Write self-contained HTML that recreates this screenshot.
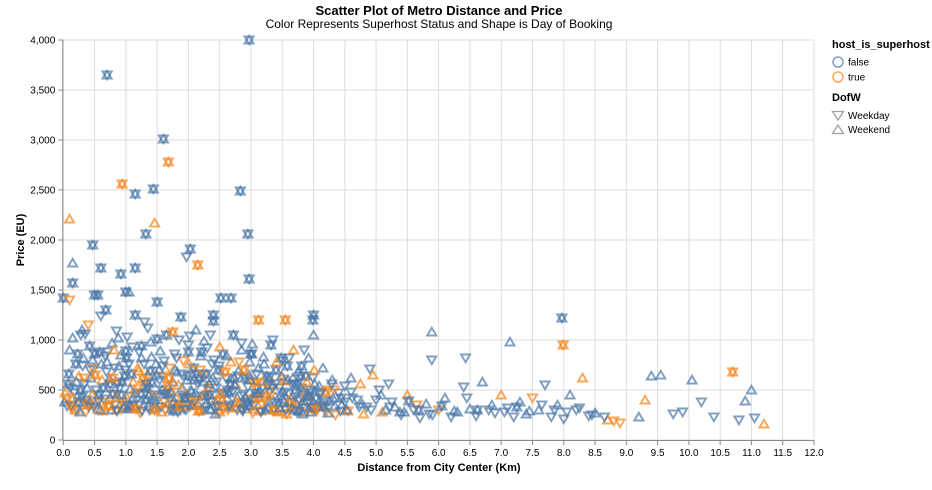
<!DOCTYPE html>
<html><head><meta charset="utf-8"><style>
body{margin:0;background:#fff;}
svg{display:block;font-family:"Liberation Sans",Arial,sans-serif;}
</style></head><body>
<svg id="chart" width="932" height="490" viewBox="0 0 932 490" xmlns="http://www.w3.org/2000/svg">
<text x="439" y="15" text-anchor="middle" font-size="13" font-weight="bold" fill="#000">Scatter Plot of Metro Distance and Price</text>
<text x="439" y="28" text-anchor="middle" font-size="12" fill="#000">Color Represents Superhost Status and Shape is Day of Booking</text>
<g id="grid"></g>
<g id="axes"></g>
<g id="marks"></g>
<text x="439" y="471" text-anchor="middle" font-size="11" font-weight="bold">Distance from City Center (Km)</text>
<text transform="translate(24,240) rotate(-90)" text-anchor="middle" font-size="11" font-weight="bold">Price (EU)</text>
<g>
<text x="832" y="48" font-size="11" font-weight="bold">host_is_superhost</text>
<circle cx="838" cy="62" r="5" fill="none" stroke="#4c78a8" stroke-width="1.5" opacity="0.7"/>
<text x="848" y="65.5" font-size="10">false</text>
<circle cx="838" cy="77" r="5" fill="none" stroke="#f58518" stroke-width="1.5" opacity="0.7"/>
<text x="848" y="80.5" font-size="10">true</text>
<text x="832" y="101" font-size="11" font-weight="bold">DofW</text>
<path d="M832.5,111.5 L843.5,111.5 L838,120 Z" fill="none" stroke="#888" stroke-width="1.3" opacity="0.8"/>
<text x="848" y="119" font-size="10">Weekday</text>
<path d="M832.5,133.5 L843.5,133.5 L838,125 Z" fill="none" stroke="#888" stroke-width="1.3" opacity="0.8"/>
<text x="848" y="133" font-size="10">Weekend</text>
</g>
</svg>
<script>
const xTicks=[0,0.5,1,1.5,2,2.5,3,3.5,4,4.5,5,5.5,6,6.5,7,7.5,8,8.5,9,9.5,10,10.5,11,11.5,12];
const yTicks=[0,500,1000,1500,2000,2500,3000,3500,4000];
const yTickLabels=["0","500","1,000","1,500","2,000","2,500","3,000","3,500","4,000"];
const distance=[
0.02,0.05,0.08,0.1,0.12,0.15,0.18,0.2,
0.22,0.25,0.28,0.3,0.32,0.35,0.38,0.4,
0.42,0.45,0.48,0.5,0.52,0.55,0.58,0.6,
0.62,0.65,0.68,0.7,0.72,0.75,0.78,0.8,
0.82,0.85,0.88,0.9,0.92,0.95,0.98,1.0,
1.02,1.05,1.08,1.1,1.12,1.15,1.18,1.2,
1.22,1.25,1.28,1.3,1.32,1.35,1.38,1.4,
1.42,1.45,1.48,1.5,1.52,1.55,1.58,1.6,
1.62,1.65,1.68,1.7,1.72,1.75,1.78,1.8,
1.82,1.85,1.88,1.9,1.92,1.95,1.98,2.0,
2.02,2.05,2.08,2.1,2.12,2.15,2.18,2.2,
2.22,2.25,2.28,2.3,2.32,2.35,2.38,2.4,
2.42,2.45,2.48,2.5,2.52,2.55,2.58,2.6,
2.62,2.65,2.68,2.7,2.72,2.75,2.78,2.8,
2.82,2.85,2.88,2.9,2.92,2.95,2.98,3.0,
3.02,3.05,3.08,3.1,3.12,3.15,3.18,3.2,
3.22,3.25,3.28,3.3,3.32,3.35,3.38,3.4,
3.42,3.45,3.48,3.5,3.52,3.55,3.58,3.6,
3.62,3.65,3.68,3.7,3.72,3.75,3.78,3.8,
3.82,3.85,3.88,3.9,3.92,3.95,3.98,4.0,
4.02,4.05,4.1,4.15,4.2,4.25,4.3,4.35,
4.4,4.45,4.5,4.55,4.6,4.7,4.8,4.9,
0.03,0.13,0.27,0.36,0.44,0.57,0.66,0.77,
0.87,0.97,1.07,1.17,1.27,1.37,1.47,1.57,
1.67,1.77,1.87,1.97,2.07,2.17,2.27,2.37,
2.47,2.57,2.67,2.77,2.87,2.97,3.07,3.17,
3.27,3.37,3.47,3.57,3.67,3.77,3.87,3.97,
0.09,0.31,0.53,0.71,0.93,1.13,1.33,1.53,
1.73,1.93,2.13,2.33,2.53,2.73,2.93,3.13,
3.33,3.53,3.73,3.93,4.13,4.33,4.53,4.73,
0.19,0.41,0.63,0.83,1.03,1.23,1.43,1.63,
1.83,2.03,2.23,2.43,2.63,2.83,3.03,3.23,
3.43,3.63,3.83,4.03,4.23,4.43,0.5,1.0,
1.5,2.0,2.5,3.0,3.5,1.25,1.75,2.25,
5.0,5.1,5.2,5.3,5.4,5.5,5.6,5.7,
5.8,5.9,6.0,6.1,6.2,6.3,6.4,6.5,
6.6,6.7,6.8,6.9,7.0,7.1,7.2,7.3,
7.4,7.5,7.6,7.7,7.8,7.9,8.0,8.1,
8.2,8.3,8.4,8.5,8.7,8.8,8.9,9.2,
9.3,9.4,9.55,9.75,9.9,10.05,10.2,10.4,
10.7,10.8,10.9,11.0,11.05,11.2,4.6,4.75,
4.85,4.95,5.05,5.15,5.25,5.45,5.65,5.85,
2.97,0.70,1.60,1.68,0.94,1.15,1.44,2.83,
1.32,1.46,2.95,0.10,2.03,0.47,1.97,2.15,
0.15,0.60,1.15,0.15,0.92,2.97,0.00,0.10,
2.68,2.52,3.12,3.99,7.97,7.99,7.14,5.89,
5.89,6.43,3.55,4.0,1.05,0.55,0.3,2.4,
0.06,0.16,0.24,0.34,0.46,0.56,0.64,0.74,
0.84,0.94,1.04,1.14,1.24,1.34,1.44,1.54,
1.64,1.74,1.84,1.94,2.04,2.14,2.24,2.34,
2.44,2.54,2.64,2.74,2.84,2.94,3.04,3.14,
3.24,3.34,3.44,3.54,3.64,3.74,3.84,3.94,
4.04,4.14,4.24,4.34,4.44,0.11,0.21,0.33,
0.43,0.51,0.61,0.69,0.79,0.89,0.99,1.09,
1.19,1.29,1.39,1.49,1.59,1.69,1.79,1.89,
1.99,2.09,2.19,2.29,2.39,2.49,2.59,2.69,
2.79,2.89,2.99,3.09,3.19,3.29,3.39,3.49,
3.59,3.69,3.79,3.89,3.99,4.09,4.19,4.29,
0.14,0.26,0.39,0.49,0.59,0.73,0.86,0.96,
1.06,1.16,1.26,1.36,1.46,1.56,1.66,1.76,
1.86,1.96,2.06,2.16,2.26,2.36,2.46,2.56,
2.66,2.76,2.86,2.96,3.06,3.16,3.26,3.36,
3.46,3.56,3.66,3.76,3.86,3.96,4.06,4.16,
0.23,0.47,0.67,0.81,1.01,1.21,1.41,1.61,
1.81,2.01,2.21,2.41,2.61,2.81,3.01,3.21,
3.41,3.61,3.81,4.01,0.37,0.79,1.11,1.31,
1.51,1.71,1.91,2.11,2.31,2.51,2.71,2.91,
3.11,3.31,3.51,3.71,3.91,4.11,4.31,4.5,
4.62,4.78,4.92,5.08,5.22,5.38,5.52,5.68,
6.05,6.25,6.45,6.62,6.85,7.05,7.25,7.45,
7.65,7.85,8.05,8.25,8.45,8.65,1.02,2.02,
0.35,0.85,1.35,1.85,2.35,2.85,3.35,3.85];
const price=[
380,420,560,900,330,1020,470,760,
300,640,1050,430,820,370,520,1150,
940,360,710,1450,500,310,880,1240,
600,410,1300,780,330,560,970,450,
720,300,1020,520,850,380,640,1480,
420,760,330,930,580,1250,470,690,
350,820,540,1180,400,660,300,980,
570,430,760,1380,330,890,500,640,
380,1050,460,720,310,580,860,420,
680,350,1230,520,790,410,600,950,
330,480,720,380,1100,560,290,840,
440,650,360,920,520,310,760,1190,
390,580,700,280,470,860,340,620,
500,330,780,420,1050,560,300,690,
370,900,460,620,310,530,780,410,
960,350,580,440,720,290,520,830,
400,640,320,480,950,560,370,700,
290,520,820,410,610,330,740,460,
380,560,900,300,470,680,350,520,
420,280,640,360,820,500,310,1050,
560,330,450,720,280,390,600,250,
470,350,540,290,620,400,260,710,
470,350,500,280,620,450,380,300,
560,340,510,400,620,450,360,280,
540,390,300,460,360,620,470,380,
300,450,560,380,290,650,470,360,
540,300,430,260,620,400,470,330,
660,740,380,880,450,330,560,700,
490,310,660,560,410,620,360,420,
390,590,280,440,360,500,300,330,
300,330,290,350,310,270,320,300,
280,340,300,260,300,320,270,300,
280,320,260,300,270,290,860,890,
1010,880,930,860,790,940,1080,990,
400,280,560,330,250,450,300,220,
360,250,300,420,230,280,530,310,
240,580,300,270,450,320,230,380,
260,420,300,550,230,350,210,450,
300,620,240,270,200,190,170,230,
400,640,650,260,280,600,380,230,
680,200,390,500,220,160,480,560,
330,650,500,300,380,280,350,260,
4000,3650,3010,2780,2560,2460,2510,2490,
2060,2170,2060,2210,1910,1950,1830,1750,
1770,1720,1720,1570,1660,1610,1420,1400,
1420,1420,1200,1200,1220,950,980,1080,
800,820,1200,1250,1480,1450,1100,1250,
340,420,380,560,450,390,520,610,
430,580,350,500,450,520,410,600,
460,360,550,420,500,390,580,450,
520,400,470,550,440,380,560,500,
450,520,370,480,420,560,390,470,
420,380,500,340,420,520,580,620,
700,650,760,680,620,740,700,660,
720,760,690,650,740,620,700,660,
640,600,700,660,620,740,680,610,
640,700,600,660,580,620,560,640,
600,560,640,580,620,540,480,560,
310,280,350,330,300,340,290,320,
350,310,290,340,300,330,360,290,
330,300,350,290,330,300,340,310,
350,320,300,340,310,280,330,300,
320,300,350,290,320,280,300,330,
860,800,840,900,820,880,830,790,
820,760,880,800,840,780,860,760,
780,820,740,700,400,460,420,470,
450,480,430,470,420,460,490,430,
470,440,480,430,450,470,420,380,
420,360,300,450,330,280,390,300,
340,290,420,300,350,280,330,290,
350,300,280,320,250,230,1030,1040,
1060,1090,1120,1000,1050,970,1000,900];
const superhost=[
0,1,0,0,1,0,0,0, 0,1,0,0,0,1,0,1, 0,0,1,0,0,1,0,0, 1,0,0,0,1,0,0,1,
0,1,0,0,0,1,0,0, 1,0,0,0,1,0,0,1, 0,0,1,0,0,1,0,0, 0,1,0,0,1,0,0,1,
1,0,0,1,0,0,0,1, 0,1,0,0,1,0,0,0, 1,0,0,1,0,0,1,0, 0,1,0,0,1,0,0,0,
1,0,0,1,0,0,1,0, 0,0,1,0,0,1,0,0, 1,0,0,0,1,0,0,1, 0,0,1,0,0,1,0,0,
1,0,0,0,0,1,0,0, 1,0,0,0,1,0,0,0, 0,0,1,0,0,0,1,0, 0,1,0,0,0,0,1,0,
0,1,0,0,1,0,0,1, 0,0,0,1,0,0,1,0, 1,0,0,1,0,0,1,0, 0,1,0,0,1,0,0,1,
1,0,0,1,0,0,1,0, 1,0,0,1,0,0,0,1, 0,1,0,1,0,0,1,0, 0,0,1,0,0,1,0,0,
1,0,0,0,1,0,0,1, 0,1,0,0,0,1,0,0, 1,0,1,0,0,1,0,1, 0,1,0,0,1,0,1,0,
1,0,0,1,0,0,0,0, 0,0,1,0,0,0,1,0, 0,1,0,0,0,1,0,0, 0,0,1,0,0,0,0,0,
0,0,0,0,1,0,0,0, 0,1,0,0,0,0,0,0, 0,1,0,0,1,1,1,0, 1,0,0,0,0,0,0,0,
1,0,0,0,0,1,0,1, 0,1,0,0,0,0,1,0, 0,0,0,1,1,0,0,0, 0,1,0,1,0,0,0,1,
0,0,0,0,0,0,0,1, 0,0,1,0,0,1,0,0, 0,0,1,0,0,0,0,0,
0,1,0,0,1,0,0,0, 1,0,0,1,0,0,0,0, 0,0,1,0,0,1,0,0, 0,1,0,0,0,0,1,0,
1,0,0,0,1,0,0,0, 0,0,1,0,0,0,0,1, 0,1,0,0,1,0,0,0, 1,0,0,0,0,1,0,0,
0,0,1,0,0,0,1,0, 0,1,0,0,1,0,0,0, 0,0,0,1,0,0,1,0, 1,0,1,0,0,1,0,0,
0,1,0,0,1,0,1,0, 1,0,0,1,0,0,0,1, 0,1,0,0,1,0,0,1, 0,0,1,0,0,0,1,0,
0,0,0,1,0,0,0,0, 0,1,0,0,0,1,0,0, 1,0,0,1,0,0,0,0, 0,0,0,0,0,1,0,0,
0,1,0,0,0,0,0,0, 0,0,0,0,0,0,0,0];
// 0 = Weekday, 1 = Weekend, 2 = both days booked
const dofw=[
1,0,2,1,0,1,0,2, 0,1,0,2,1,0,1,0, 2,1,0,2,0,1,2,0, 1,0,2,1,0,2,1,0,
0,2,1,0,1,0,2,2, 1,0,2,0,1,2,0,1, 0,1,2,0,2,1,0,1, 2,0,1,2,0,1,2,0,
0,2,1,0,2,1,0,1, 1,0,2,1,0,2,1,0, 0,1,2,0,1,0,2,1, 2,0,1,0,2,1,0,2,
1,0,2,1,0,2,1,0, 0,2,1,0,2,1,0,1, 2,1,0,2,1,0,1,2, 1,0,2,0,1,2,0,1,
0,2,1,0,2,1,0,2, 1,0,2,1,0,1,2,0, 2,0,1,2,0,1,0,2, 0,1,2,0,1,0,2,1,
1,2,0,1,0,2,1,0, 0,1,0,2,1,0,1,0, 1,0,2,0,1,2,0,1, 0,2,1,0,2,1,0,1,
2,1,0,1,0,2,1,0, 1,0,2,1,0,1,2,0, 0,1,0,2,1,0,1,2, 2,0,1,0,2,1,0,1,
1,0,2,1,0,1,0,2, 0,1,0,2,1,0,1,0, 1,0,1,0,1,0,1,0, 0,1,0,1,0,1,0,1,
1,0,1,0,1,0,2,2, 2,2,1,2,0,2,2,1, 0,1,0,1,0,1,0,0, 1,0,0,1,0,1,0,1,
0,1,0,0,1,0,0,1, 1,0,1,0,0,1,0,1, 0,1,0,1,1,0,0,1, 1,1,1,0,0,1,0,0,
2,0,1,1,0,1,0,1, 0,1,0,1,0,1,0,0, 2,2,2,2,2,2,2,2, 2,1,2,1,2,2,0,2,
1,2,2,2,2,2,2,0, 2,2,2,2,2,2,1,1, 0,0,2,2,1,2,1,2,
0,1,2,0,1,0,2,1, 1,2,0,1,0,2,1,0, 2,0,1,2,1,0,1,2, 0,1,2,1,0,2,0,1,
1,0,2,0,1,2,1,0, 2,1,0,1,2,0,1,0, 0,2,1,0,2,1,0,2, 1,0,2,1,0,2,1,0,
2,1,0,2,1,0,2,1, 0,2,1,0,1,2,0,1, 1,0,2,1,0,1,2,0, 0,1,2,0,1,2,0,1,
1,2,0,1,2,0,1,2, 2,0,1,2,0,1,2,0, 0,1,0,2,1,0,1,2, 1,0,1,2,0,1,0,2,
2,1,0,1,2,0,1,0, 0,1,2,0,1,0,2,1, 1,0,2,1,0,2,1,0, 0,1,0,1,0,1,0,1,
1,0,1,0,1,0,1,0, 0,1,0,1,0,1,2,2, 2,1,0,2,1,0,2,1];

const X0=63.3,X1=814,Y0=440,Y1=40;
function xs(v){return X0+(v-0)/(12-0)*(X1-X0);}
function ys(v){return Y0-(v-0)/(4000-0)*(Y0-Y1);}
const NS="http://www.w3.org/2000/svg";
function mk(tag,attrs,parent){const e=document.createElementNS(NS,tag);for(const k in attrs)e.setAttribute(k,attrs[k]);parent.appendChild(e);return e;}
const grid=document.getElementById('grid'),axes=document.getElementById('axes'),marks=document.getElementById('marks');
xTicks.forEach((t,i)=>{
  const g=mk('line',{x1:xs(t),x2:xs(t),y1:Y1,y2:Y0,stroke:'#ddd','stroke-width':1},grid);
  
  
  const tk=mk('line',{x1:xs(t),x2:xs(t),y1:Y0,y2:Y0+5,stroke:'#888','stroke-width':1},axes);
  
  
  const lb=mk('text',{x:xs(t),y:Y0+16,'text-anchor':'middle','font-size':10,fill:'#000'},axes);
  lb.textContent=t.toFixed(1);
  
  
});
yTicks.forEach((t,i)=>{
  const g=mk('line',{x1:X0,x2:X1,y1:ys(t),y2:ys(t),stroke:'#ddd','stroke-width':1},grid);
  
  
  const tk=mk('line',{x1:X0-5,x2:X0,y1:ys(t),y2:ys(t),stroke:'#888','stroke-width':1},axes);
  
  
  const lb=mk('text',{x:X0-8,y:ys(t)+3.5,'text-anchor':'end','font-size':10,fill:'#000'},axes);
  lb.textContent=yTickLabels[i];
  
  
});
const xa=mk('line',{x1:X0,x2:X1,y1:Y0+0.5,y2:Y0+0.5,stroke:'#888','stroke-width':1},axes);


const ya=mk('line',{x1:X0-0.5,x2:X0-0.5,y1:Y1,y2:Y0,stroke:'#888','stroke-width':1},axes);


function tri(cx,cy,up){return up?`M${cx-4.5},${cy+3.5} L${cx+4.5},${cy+3.5} L${cx},${cy-4.2} Z`:`M${cx-4.5},${cy-3.5} L${cx+4.5},${cy-3.5} L${cx},${cy+4.2} Z`;}
const n=Math.min(distance.length,price.length);
for(let i=0;i<n;i++){
  const cx=xs(distance[i]),cy=ys(price[i]);
  const col=(superhost[i]||0)?'#f58518':'#4c78a8';
  const d=dofw[i]||0;
  const shapes=d===2?[0,1]:[d];
  shapes.forEach(s=>{
    const p=mk('path',{d:tri(cx,cy,s===1),fill:'none',stroke:col,'stroke-width':2,opacity:0.7},marks);
    
    
  });
}
</script>
</body></html>
